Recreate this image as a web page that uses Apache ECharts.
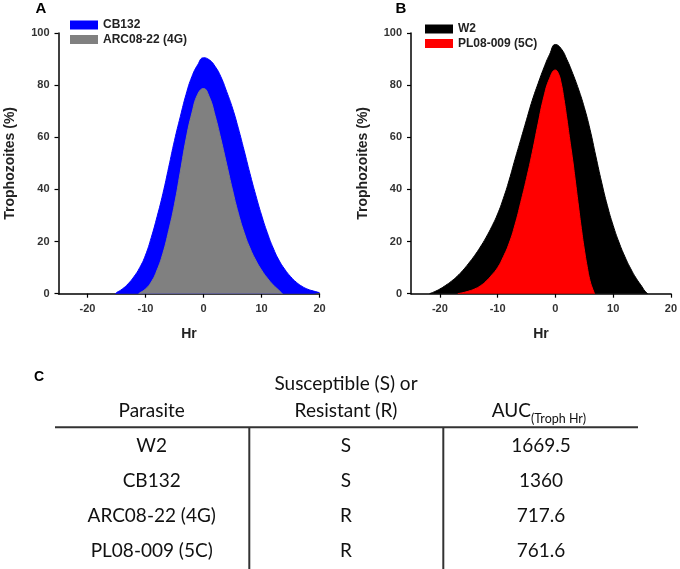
<!DOCTYPE html>
<html><head><meta charset="utf-8">
<script src="https://cdn.jsdelivr.net/npm/echarts@6/dist/echarts.min.js"></script>
<style>html,body{margin:0;padding:0;background:#fff}#c{width:680px;height:569px}</style>
</head><body><div id="c"></div>
<script>
// ---- Data ----
const xTicks = [-20, -10, 0, 10, 20];
const yTicks = [0, 20, 40, 60, 80, 100];

// Panel A
const hrCB132  = [-15.2, -15, -14, -13, -12, -11, -10, -9, -8, -7, -6, -5, -4, -3, -2, -1, 0, 1, 2, 3, 4, 5, 6, 7, 8, 9, 10, 11, 12, 13, 14, 15, 16, 17, 18, 19, 20];
const pctCB132 = [0, 0.4, 1.8, 3.8, 6.5, 10.0, 14.8, 21.6, 29.6, 38.4, 48.5, 58.8, 67.9, 76.5, 83.3, 87.8, 90.5, 89.7, 87.2, 83.2, 77.5, 71.2, 63.5, 55.0, 46.2, 37.9, 30.2, 23.4, 17.6, 12.9, 9.4, 6.6, 4.4, 2.8, 1.7, 1.0, 0.4];
const hrARC  = [-11.2, -11, -10, -9, -8, -7, -6, -5, -4, -3, -2, -1, 0, 1, 2, 3, 4, 5, 6, 7, 8, 9, 10, 11, 12, 13, 13.6];
const pctARC = [0, 0.3, 1.8, 4.5, 9.1, 15.5, 24.2, 34.3, 46.7, 59.4, 69.3, 76.5, 78.7, 75.5, 68.3, 59.3, 49.6, 39.8, 30.9, 23.5, 17.6, 12.9, 9.1, 6.0, 3.4, 1.3, 0];

// Panel B
const hrW2  = [-21.8, -21, -20, -19, -18, -17, -16, -15, -14, -13, -12, -11, -10, -9, -8, -7, -6, -5, -4, -3, -2, -1, 0, 1, 2, 3, 4, 5, 6, 7, 8, 9, 10, 11, 12, 13, 14, 15, 15.5, 16];
const pctW2 = [0, 0.7, 1.8, 3.2, 4.8, 6.7, 9.0, 11.7, 14.6, 17.9, 21.6, 25.8, 30.6, 36.6, 43.6, 51.5, 59.1, 66.7, 74.2, 80.6, 86.6, 91.8, 95.6, 94.0, 89.8, 84.5, 78.5, 71.5, 63, 52.8, 42.8, 33.8, 26.2, 19.8, 14.4, 9.8, 5.9, 2.7, 1.0, 0];
const hrPL  = [-16.9, -16, -15, -14, -13, -12, -11, -10, -9, -8, -7, -6, -5, -4, -3, -2, -1, 0, 0.5, 1, 1.5, 2, 2.5, 3, 3.5, 4, 4.5, 5, 5.5, 6, 6.5, 6.8];
const pctPL = [0, 0.4, 1.0, 1.8, 3.0, 4.8, 7.2, 10, 14.2, 19.4, 26.4, 35, 44.2, 54.2, 65.2, 75.5, 82.6, 85.8, 84.6, 80.8, 74.5, 67, 59, 51.2, 42.5, 33.6, 25, 17.2, 10.5, 5, 1.6, 0];

// Table
const tableHeadParasite = 'Parasite';
const tableHeadSR = 'Susceptible (S) or\nResistant (R)';
const tableHeadAUC = 'AUC';
const tableHeadAUCSub = '(Troph Hr)';
const parasites = ['W2', 'CB132', 'ARC08-22 (4G)', 'PL08-009 (5C)'];
const susceptibility = ['S', 'S', 'R', 'R'];
const aucValues = ['1669.5', '1360', '717.6', '761.6'];

// ---- Chart ----
const zip = (xs, ys) => xs.map((x, i) => [x, ys[i]]);
const F = 'Liberation Sans, Arial, sans-serif';
const TF = 'Lato, Open Sans, sans-serif';

function xAx(gi) {
  return {
    gridIndex: gi, type: 'value', min: -25, max: 20,
    axisLine: { show: true, onZero: false, lineStyle: { color: '#000', width: 1.5 } },
    axisTick: { show: true, customValues: xTicks, length: 4, lineStyle: { color: '#000', width: 1.2 } },
    axisLabel: { customValues: xTicks, margin: 10, fontSize: 11, fontWeight: 'bold', color: '#333', fontFamily: F },
    splitLine: { show: false },
    name: 'Hr', nameLocation: 'middle', nameGap: 33,
    nameTextStyle: { fontSize: 14, fontWeight: 'bold', color: '#222', fontFamily: F, verticalAlign: 'top' }
  };
}
function yAx(gi) {
  return {
    gridIndex: gi, type: 'value', min: 0, max: 100, interval: 20,
    axisLine: { show: true, onZero: false, lineStyle: { color: '#000', width: 1.5 } },
    axisTick: { show: true, length: 4, lineStyle: { color: '#000', width: 1.2 } },
    axisLabel: { margin: 9, fontSize: 11, fontWeight: 'bold', color: '#333', fontFamily: F },
    splitLine: { show: false },
    name: 'Trophozoites (%)', nameLocation: 'middle', nameGap: 41, nameRotate: 90,
    nameTextStyle: { fontSize: 14, fontWeight: 'bold', color: '#222', fontFamily: F }
  };
}
function area(name, gi, data, color) {
  return {
    name, type: 'line', xAxisIndex: gi, yAxisIndex: gi, data,
    symbol: 'none', showSymbol: false, smooth: 0.5,
    lineStyle: { width: 1, color }, itemStyle: { color },
    areaStyle: { color, opacity: 1 }, emphasis: { disabled: true }
  };
}
function legend(names, left, top) {
  return {
    data: names.map(n => ({ name: n, icon: 'rect' })), left, top, orient: 'vertical',
    itemWidth: 28, itemHeight: 9, itemGap: 2.5, padding: 0,
    textStyle: { fontSize: 12, fontWeight: 'bold', color: '#222', fontFamily: F, lineHeight: 12, padding: [0, 0, 0, 0] },
    selectedMode: false
  };
}

const tableGraphics = [];
const colX = [151.7, 346, 541];
const headColor = '#111';
tableGraphics.push({ type: 'text', x: colX[0], y: 410.7, style: { text: tableHeadParasite, fontSize: 19, fontFamily: TF, fill: headColor, align: 'center', verticalAlign: 'middle' } });
tableGraphics.push({ type: 'text', x: colX[1], y: 397.3, style: { text: tableHeadSR, fontSize: 19, lineHeight: 27, fontFamily: TF, fill: headColor, align: 'center', verticalAlign: 'middle' } });
tableGraphics.push({ type: 'text', x: 531, y: 410.7, style: { text: tableHeadAUC, fontSize: 19, fontFamily: TF, fill: headColor, align: 'right', verticalAlign: 'middle' } });
tableGraphics.push({ type: 'text', x: 531, y: 418.5, style: { text: tableHeadAUCSub, fontSize: 12.5, fontFamily: TF, fill: headColor, align: 'left', verticalAlign: 'middle' } });
tableGraphics.push({ type: 'line', shape: { x1: 55, y1: 427.3, x2: 638, y2: 427.3 }, style: { stroke: '#333', lineWidth: 2 } });
tableGraphics.push({ type: 'line', shape: { x1: 249.3, y1: 427.3, x2: 249.3, y2: 569 }, style: { stroke: '#333', lineWidth: 2 } });
tableGraphics.push({ type: 'line', shape: { x1: 443.3, y1: 427.3, x2: 443.3, y2: 569 }, style: { stroke: '#333', lineWidth: 2 } });
parasites.forEach((p, i) => {
  const y = 446 + i * 34.9;
  [p, susceptibility[i], aucValues[i]].forEach((t, j) => {
    tableGraphics.push({ type: 'text', x: colX[j], y, style: { text: t, fontSize: 19, fontFamily: TF, fill: headColor, align: 'center', verticalAlign: 'middle' } });
  });
});

const panelLabels = [
  { type: 'text', x: 41, y: 9, style: { text: 'A', fontSize: 15, fontWeight: 'bold', fontFamily: F, fill: '#000', align: 'center', verticalAlign: 'middle' } },
  { type: 'text', x: 401, y: 9, style: { text: 'B', fontSize: 15, fontWeight: 'bold', fontFamily: F, fill: '#000', align: 'center', verticalAlign: 'middle' } },
  { type: 'text', x: 39, y: 377, style: { text: 'C', fontSize: 14, fontWeight: 'bold', fontFamily: F, fill: '#000', align: 'center', verticalAlign: 'middle' } }
];

const chart = echarts.init(document.getElementById('c'), null, { renderer: 'canvas' });
chart.setOption({
  animation: false,
  backgroundColor: '#fff',
  grid: [
    { left: 58.5, top: 33, width: 261, height: 260.7 },
    { left: 411, top: 33, width: 262, height: 260.7 }
  ],
  xAxis: [xAx(0), xAx(1)],
  yAxis: [yAx(0), yAx(1)],
  legend: [
    legend(['CB132', 'ARC08-22 (4G)'], 70, 19),
    legend(['W2', 'PL08-009 (5C)'], 425, 23)
  ],
  series: [
    area('CB132', 0, zip(hrCB132, pctCB132), '#0000ff'),
    area('ARC08-22 (4G)', 0, zip(hrARC, pctARC), '#808080'),
    area('W2', 1, zip(hrW2, pctW2), '#000000'),
    area('PL08-009 (5C)', 1, zip(hrPL, pctPL), '#ff0000')
  ],
  graphic: panelLabels.concat(tableGraphics)
});
</script></body></html>
